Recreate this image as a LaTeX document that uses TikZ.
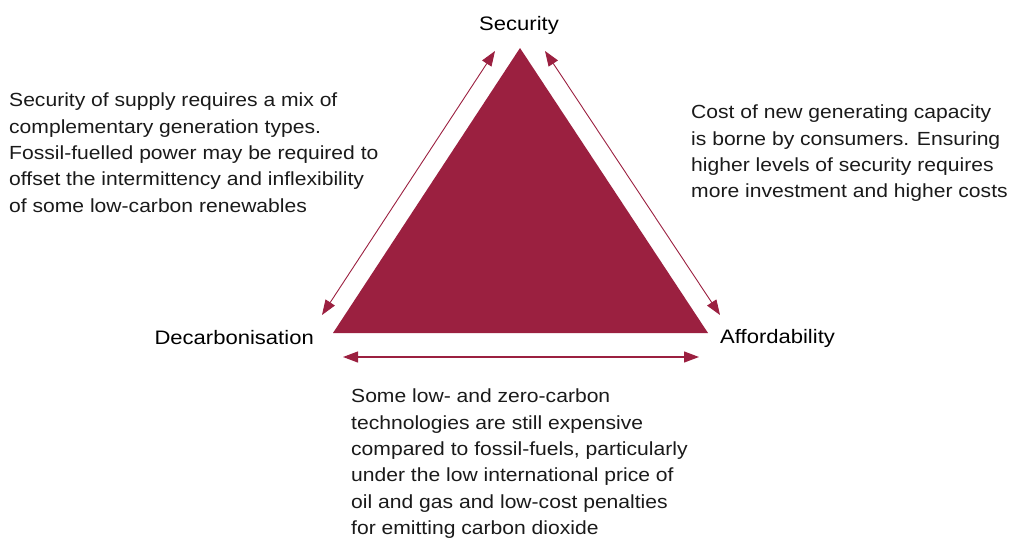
\documentclass[tikz,border=0pt]{standalone}
\usepackage{fontspec}
\setmainfont{Liberation Sans}[FakeStretch=1.11]
\newfontfamily\lblfont{Liberation Sans}[FakeStretch=1.13]
\usetikzlibrary{arrows.meta}
\definecolor{wine}{HTML}{9B2040}
\definecolor{txt}{HTML}{1A1A1A}
\begin{document}
\begin{tikzpicture}[x=1pt,y=-1pt,
  dbl/.style={wine,line width=0.9pt,{Triangle[length=15pt,width=11pt]}-{Triangle[length=15pt,width=11pt]}},
  para/.style={inner sep=0pt,align=left,anchor=north west,font=\fontsize{19}{26.3}\selectfont,text=txt},
  lbl/.style={inner sep=0pt,font=\lblfont\fontsize{19.5}{22}\selectfont,text=black}]
\useasboundingbox (0,0) rectangle (1020,538);
\fill[wine] (520,48) -- (708,333) -- (333,333) -- cycle;
\coordinate (la) at (322,315);
\coordinate (lb) at (495,51);
\coordinate (ra) at (545,51);
\coordinate (rb) at (720,315);
\coordinate (ba) at (343,357);
\coordinate (bb) at (699,357);
\draw[dbl] (la) -- (lb);
\draw[dbl] (ra) -- (rb);
\draw[dbl,line width=1.2pt] (ba) -- (bb);
\node[lbl] (sec) at (519,25) {Security};
\node[lbl,anchor=east] (dec) at (314,338) {Decarbonisation};
\node[lbl,anchor=west] (aff) at (720,338) {Affordability};
\node[para] (tl) at (9,93) {Security of supply requires a mix of\\complementary generation types.\\Fossil-fuelled power may be required to\\offset the intermittency and inflexibility\\of some low-carbon renewables};
\node[para] (tr) at (691,105) {Cost of new generating capacity\\is borne by consumers. Ensuring\\higher levels of security requires\\more investment and higher costs};
\node[para] (bt) at (351,389) {Some low- and zero-carbon\\technologies are still expensive\\compared to fossil-fuels, particularly\\under the low international price of\\oil and gas and low-cost penalties\\for emitting carbon dioxide};
\end{tikzpicture}
\end{document}
